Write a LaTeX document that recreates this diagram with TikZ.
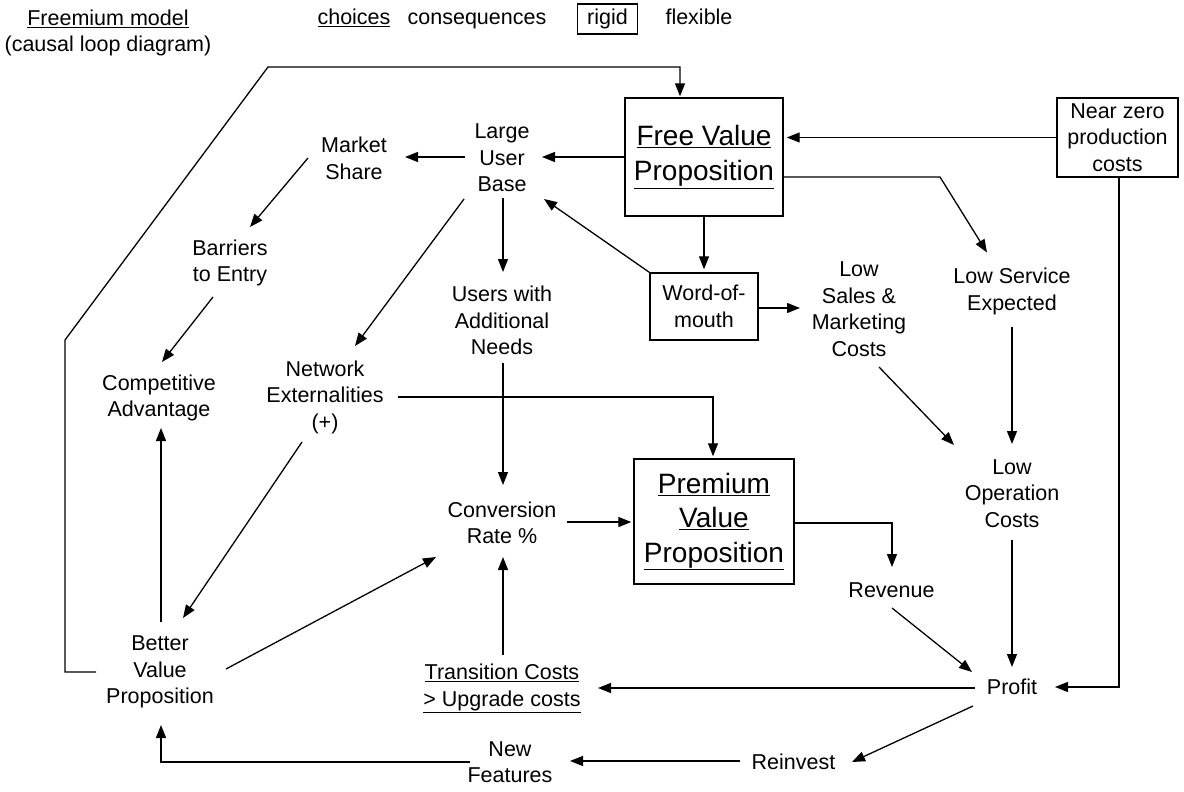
\documentclass[tikz,border=0pt]{standalone}
\usepackage{fontspec}
\setmainfont{Liberation Sans}
\usetikzlibrary{arrows.meta,calc}
\newcommand\lblfont{\fontsize{21.5}{26.5}\selectfont}
\newcommand\bigfont{\fontsize{28}{34.5}\selectfont}
\begin{document}
\begin{tikzpicture}[x=1pt,y=-1pt,
  lbl/.style={align=center,font=\lblfont,inner sep=0pt},
  hdr/.style={font=\lblfont,inner sep=0pt,anchor=base},
  bigbox/.style={draw,line width=1.4pt,align=center,font=\bigfont,inner sep=0pt},
  smallbox/.style={draw,line width=1.4pt,align=center,font=\lblfont,inner sep=0pt},
  conn/.style={line width=1.3pt},
  arr/.style={conn,-{Triangle[length=13pt,width=10pt]}}]
\useasboundingbox (0,0) rectangle (1184,792);

% header
\node[lbl] (title) at (108,33) {\underline{Freemium model}\\(causal loop diagram)};
\node[hdr] (choices) at (354,25) {\underline{choices}};
\node[hdr] (conseq) at (477,25) {consequences};
\node[draw,line width=1.4pt,font=\lblfont,inner sep=0pt,minimum width=60pt,text height=21pt,text depth=9pt,anchor=base] (rigid) at (607.5,25) {rigid};
\node[hdr] (flex) at (699,25) {flexible};

% nodes
\node[bigbox,minimum width=158pt,minimum height=118pt] (fvp) at (704,157) {\underline{Free Value}\\\underline{Proposition}};
\node[lbl] (lub) at (502,158) {Large\\User\\Base};
\node[lbl] (ms) at (354,158.5) {Market\\Share};
\node[lbl] (bte) at (230,263) {Barriers\\to Entry};
\node[lbl] (ca) at (159,398) {Competitive\\Advantage};
\node[lbl] (ne) at (325,397) {Network\\Externalities\\(+)};
\node[lbl] (users) at (502,320.5) {Users with\\Additional\\Needs};
\node[lbl] (conv) at (502,523) {Conversion\\Rate \%};
\node[bigbox,minimum width=160pt,minimum height=125pt] (pvp) at (714,521.5) {\underline{Premium}\\\underline{Value}\\\underline{Proposition}};
\node[lbl] (bvp) at (160,672) {Better\\Value\\Proposition};
\node[lbl] (tc) at (502,688.5) {\underline{Transition Costs}\\\underline{> Upgrade costs}};
\node[lbl] (nf) at (510,762) {New\\Features};
\node[lbl] (reinv) at (793.5,762) {Reinvest};
\node[lbl] (profit) at (1012,687) {Profit};
\node[lbl] (rev) at (891.5,590) {Revenue};
\node[lbl] (loc) at (1012,493.5) {Low\\Operation\\Costs};
\node[lbl] (lse) at (1012,291.5) {Low Service\\Expected};
\node[lbl] (lsm) at (859,309) {Low\\Sales \&\\Marketing\\Costs};
\node[smallbox,minimum width=108pt,minimum height=67pt] (wom) at (704,306.5) {Word-of-\\mouth};
\node[smallbox,minimum width=121pt,minimum height=79pt] (nzc) at (1117.5,137.5) {Near zero\\production\\costs};

% connectors
\draw[arr] ($(bvp.center)+(-64,0)$) -| (65,340) -- (268,67) -| ($(fvp.north)+(-24,-1)$);
\draw[arr,shorten >=3pt] (nzc.west) -- (nzc.west -| fvp.east);
\draw[arr] ($(nzc.south)+(1.5,0)$) |- ($(profit.center)+(43,0)$);
\draw[arr] (fvp.west) -- ($(lub.center)+(40,-1)$);
\draw[arr] ($(lub.center)+(-37,-1)$) -- ($(ms.center)+(51,-1.5)$);
\draw[arr] ($(ms.center)+(-46,-0.5)$) -- ($(bte.center)+(20,-36)$);
\draw[arr] ($(bte.center)+(-17,34)$) -- ($(ca.center)+(3,-36)$);
\draw[arr] ($(bvp.center)+(1,-50)$) -- ($(ca.center)+(2,30)$);
\draw[arr] ($(lub.center)+(-38,41)$) -- ($(ne.center)+(30,-51)$);
\draw[arr] ($(lub.center)+(1,40)$) -- ($(users.center)+(1,-48.5)$);
\draw[arr] ($(users.center)+(1,42.5)$) -- ($(conv.center)+(1,-38)$);
\draw[arr] ($(ne.center)+(73,0)$) -| ($(pvp.north)+(-1,-2)$);
\draw[arr] ($(ne.center)+(-23,45)$) -- ($(bvp.center)+(23,-54)$);
\draw[arr] ($(bvp.center)+(66,-3)$) -- ($(conv.center)+(-66,34)$);
\draw[arr] ($(tc.center)+(1,-33.5)$) -- ($(conv.center)+(1,34)$);
\draw[arr] ($(conv.center)+(65,-1)$) -- ($(pvp.west)+(-2,0.5)$);
\draw[arr] ($(pvp.east)+(0,1.5)$) -| ($(rev.center)+(0.5,-23)$);
\draw[arr] ($(rev.center)+(0.5,18)$) -- ($(profit.center)+(-40,-15)$);
\draw[arr] ($(loc.center)+(0,46.5)$) -- ($(profit.center)+(0,-20)$);
\draw[arr] ($(profit.center)+(-37,1)$) -- ($(tc.center)+(96,-0.5)$);
\draw[arr] ($(profit.center)+(-39,19)$) -- ($(reinv.center)+(58.5,0)$);
\draw[arr] ($(reinv.center)+(-53.5,-1)$) -- ($(nf.center)+(60,-1)$);
\draw[arr] ($(nf.center)+(-40,0)$) -| ($(bvp.center)+(1,53)$);
\draw[arr] (fvp.south) -- ($(wom.north)+(0,-3)$);
\draw[arr] (wom.north west) -- ($(lub.center)+(42,41)$);
\draw[arr] ($(wom.east)+(0,1.5)$) -- ($(lsm.center)+(-59,-1)$);
\draw[arr] ($(fvp.east)+(0,20)$) -- (940,177) -- ($(lse.center)+(-25,-39)$);
\draw[arr] ($(lse.center)+(0,35.5)$) -- ($(loc.center)+(0,-49.5)$);
\draw[arr] ($(lsm.center)+(20,58)$) -- ($(loc.center)+(-58,-48.5)$);
\end{tikzpicture}
\end{document}
